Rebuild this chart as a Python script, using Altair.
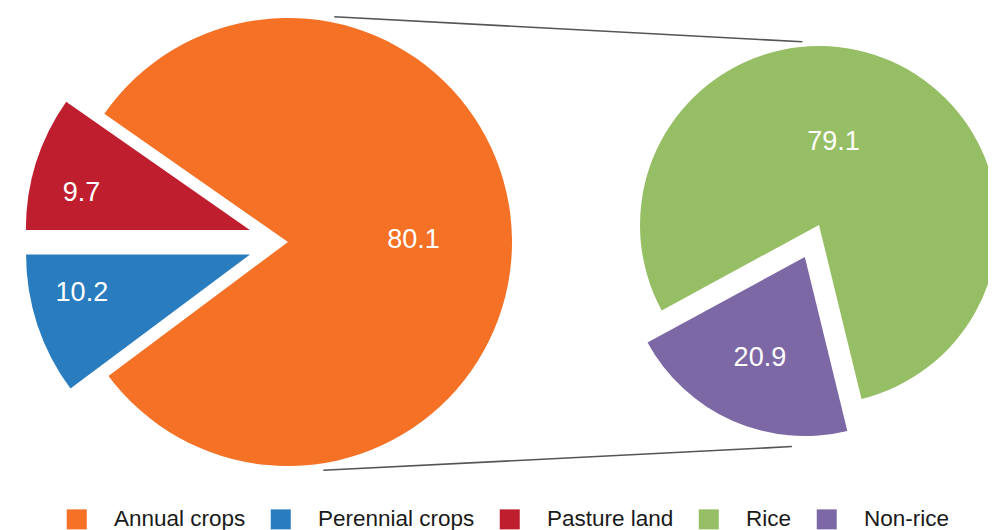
import math
import altair as alt
import pandas as pd

# ---- data ----
left_cats = ["Annual crops", "Perennial crops", "Pasture land"]
left_vals = [80.1, 10.2, 9.7]
right_cats = ["Rice", "Non-rice"]
right_vals = [79.1, 20.9]
legend_order = ["Annual crops", "Perennial crops", "Pasture land", "Rice", "Non-rice"]
colors = ["#F47126", "#297CBE", "#BE1E2E", "#96BE64", "#7D68A6"]

FONT = "Liberation Sans"

# ---- layout (image pixel coordinates) ----
L_CX, L_CY, L_R = 288, 242, 224
R_CX, R_CY, R_R = 819, 225, 179
left_explode = {"Perennial crops": 40, "Pasture land": 40}
right_explode = {"Non-rice": 35}
# label placement: (fraction of radius, angle adjustment in degrees from bisector)
left_label = {"Annual crops": (0.56, 0), "Perennial crops": (0.77, 5.5), "Pasture land": (0.77, -5)}
right_label = {"Rice": (0.47, -14), "Non-rice": (0.62, 0)}
left_start = 270 - 360 * (left_vals[0] + left_vals[1]) / sum(left_vals)
right_start = -118.5


def pie_frame(cats, vals, start_deg, cx, cy, explode, label_spec, radius):
    total = sum(vals)
    rows = []
    a = start_deg
    for c, v in zip(cats, vals):
        span = 360.0 * v / total
        a0, a1 = a, a + span
        mid = math.radians((a0 + a1) / 2)
        d = explode.get(c, 0)
        x = cx + d * math.sin(mid)
        y = cy - d * math.cos(mid)
        frac, adj = label_spec[c]
        la = mid + math.radians(adj)
        lr = frac * radius
        rows.append(dict(cat=c, value=v, t0=math.radians(a0), t1=math.radians(a1),
                         x=x, y=y, lx=x + lr * math.sin(la), ly=y - lr * math.cos(la),
                         label=f"{v:.1f}"))
        a = a1
    return pd.DataFrame(rows)


left_df = pie_frame(left_cats, left_vals, left_start, L_CX, L_CY, left_explode, left_label, L_R)
right_df = pie_frame(right_cats, right_vals, right_start, R_CX, R_CY, right_explode, right_label, R_R)

# connector lines: from left pie edge to right pie edge (angle deg, distance from centre)
purple = right_df[right_df.cat == "Non-rice"].iloc[0]
green = right_df[right_df.cat == "Rice"].iloc[0]
conn_specs = [
    ((L_CX, L_CY), 11.6, L_R + 6, (green.x, green.y), -5.2, R_R + 5),
    ((L_CX, L_CY), 171.2, L_R + 7, (purple.x, purple.y), 183.9, R_R + 11),
]
conn_rows = []
for (c1, a1, d1, c2, a2, d2) in conn_specs:
    r1, r2 = math.radians(a1), math.radians(a2)
    conn_rows.append(dict(x=c1[0] + d1 * math.sin(r1), y=c1[1] - d1 * math.cos(r1),
                          x2=c2[0] + d2 * math.sin(r2), y2=c2[1] - d2 * math.cos(r2)))
conn_df = pd.DataFrame(conn_rows)

xs = alt.Scale(domain=[8, 988], nice=False, zero=False)
ys = alt.Scale(domain=[8, 530], nice=False, zero=False, reverse=True)

color_enc = alt.Color(
    "cat:N",
    scale=alt.Scale(domain=legend_order, range=colors),
    sort=legend_order,
    legend=alt.Legend(
        orient="none", legendX=57.5, legendY=500, direction="horizontal", title=None,
        symbolType="square", symbolSize=400, symbolStrokeWidth=0, symbolOpacity=1,
        labelFont=FONT, labelFontSize=22.5, labelColor="#1a1a1a", labelOffset=26,
        columnPadding=24, labelLimit=300,
    ),
)

connectors = alt.Chart(conn_df).mark_rule(color="#555555", strokeWidth=1.6).encode(
    x=alt.X("x:Q", scale=xs, axis=None), y=alt.Y("y:Q", scale=ys, axis=None),
    x2="x2:Q", y2="y2:Q",
)


def arcs(df, radius):
    return alt.Chart(df).mark_arc(radius=radius, stroke=None).encode(
        x=alt.X("x:Q", scale=xs, axis=None),
        y=alt.Y("y:Q", scale=ys, axis=None),
        theta=alt.Theta("t0:Q", scale=None),
        theta2="t1:Q",
        color=color_enc,
    )


def labels(df):
    return alt.Chart(df).mark_text(font=FONT, fontSize=27, color="white",
                                   align="center", baseline="middle").encode(
        x=alt.X("lx:Q", scale=xs, axis=None),
        y=alt.Y("ly:Q", scale=ys, axis=None),
        text="label:N",
    )


chart = alt.layer(
    connectors, arcs(left_df, L_R), arcs(right_df, R_R), labels(left_df), labels(right_df)
).properties(
    width=980, height=522, padding=0, autosize=alt.AutoSizeParams(type="none")
).configure_view(stroke=None)

chart.save("out.html", embed_options={"renderer": "svg", "actions": False})
